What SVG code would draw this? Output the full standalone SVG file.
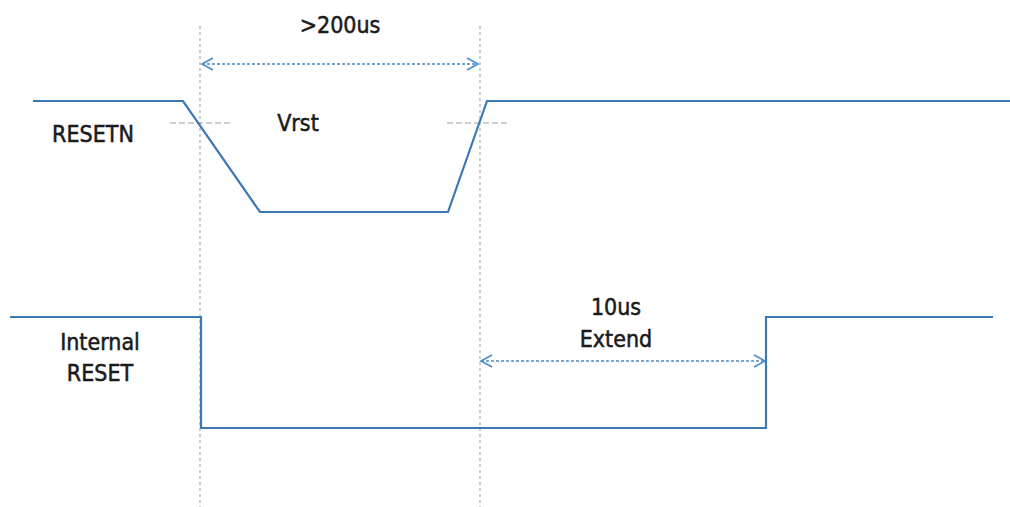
<svg xmlns="http://www.w3.org/2000/svg" width="1010" height="507" viewBox="0 0 1010 507">
<style>
.sig{fill:none;stroke:#3c78b4;stroke-width:2.2}
.guide{fill:none;stroke:#aab0b8;stroke-width:1.2;stroke-dasharray:3 3}
.thr{fill:none;stroke:#9aa0a8;stroke-width:1.2;stroke-dasharray:6 3}
.dim{fill:none;stroke:#4a8cc8;stroke-width:1.6;stroke-dasharray:3 2}
.lbl{font-family:"Liberation Sans Narrow","DejaVu Sans Condensed","Liberation Sans",sans-serif;font-size:23px;fill:#1a1a1a;stroke:#1a1a1a;stroke-width:0.5;text-anchor:middle}
</style>
<defs>
<marker id="ah" markerWidth="14" markerHeight="14" refX="12" refY="7" orient="auto-start-reverse" markerUnits="userSpaceOnUse">
<path d="M1,1 L12,7 L1,13" fill="none" stroke="#4a8cc8" stroke-width="1.6"/>
</marker>
</defs>
<g id="guides">
<line class="guide" x1="200" y1="26" x2="200" y2="507"/>
<line class="guide" x1="480" y1="26" x2="480" y2="507"/>
<line class="thr" x1="170" y1="123" x2="231" y2="123"/>
<line class="thr" x1="447" y1="123" x2="508" y2="123"/>
</g>
<g id="resetn">
<polyline class="sig" points="33,101 183,101 260,212 448,212 487,101 1010,101"/>
<text class="lbl" x="93" y="142">RESETN</text>
</g>
<g id="internal-reset">
<polyline class="sig" points="10,317 201,317 201,428 766,428 766,317 993,317"/>
<text class="lbl" x="100" y="350">Internal</text>
<text class="lbl" x="100" y="381">RESET</text>
</g>
<g id="vrst">
<text class="lbl" x="298" y="131">Vrst</text>
</g>
<g id="connectors">
<line class="dim" x1="202" y1="64" x2="478" y2="64" marker-start="url(#ah)" marker-end="url(#ah)"/>
<line class="dim" x1="481" y1="361" x2="765" y2="361" marker-start="url(#ah)" marker-end="url(#ah)"/>
</g>
<g id="labels">
<text class="lbl" x="340" y="33">&gt;200us</text>
<text class="lbl" x="616" y="315">10us</text>
<text class="lbl" x="616" y="347">Extend</text>
</g>
</svg>
